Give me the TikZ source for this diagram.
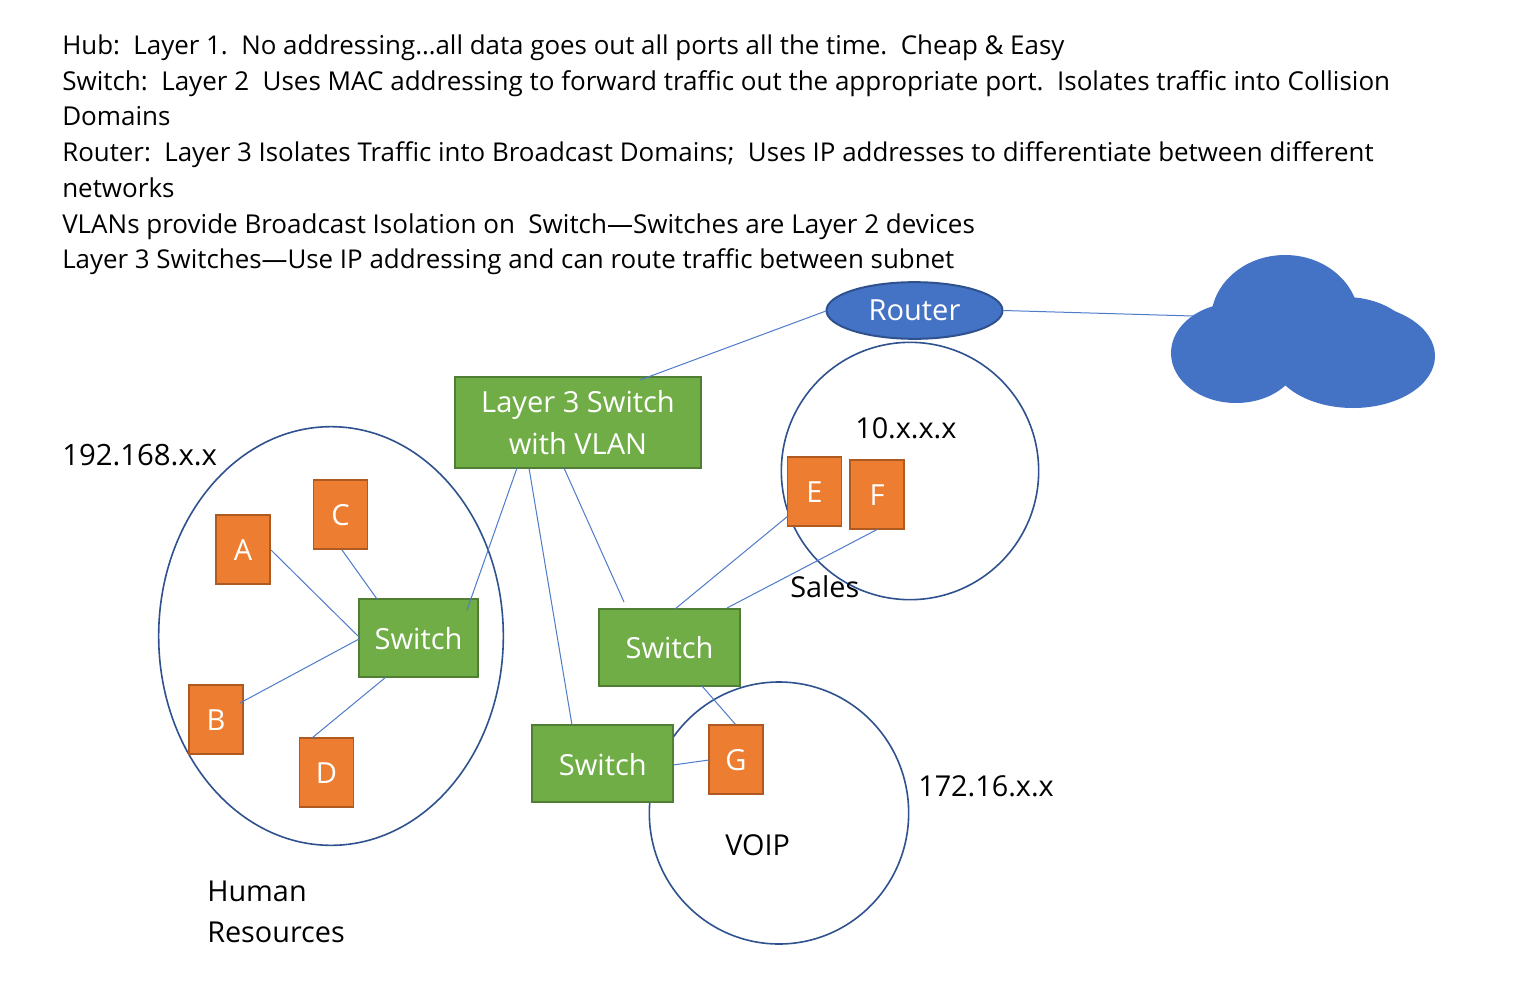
\documentclass[tikz,border=0pt]{standalone}
\usepackage{fontspec}
\setmainfont{Open Sans}
\usetikzlibrary{shapes.geometric}
\definecolor{blueF}{HTML}{4472C4}
\definecolor{blueL}{HTML}{2F528F}
\definecolor{greenF}{HTML}{70AD47}
\definecolor{greenL}{HTML}{507E32}
\definecolor{orF}{HTML}{ED7D31}
\definecolor{orL}{HTML}{AE5A21}
\definecolor{wireC}{HTML}{4F7BCB}
\tikzset{
 x=0.75pt,y=-0.75pt,
 lbl/.style={inner sep=0pt,anchor=base west,font=\fontsize{21.6}{26}\selectfont,text=black},
 hdr/.style={inner sep=0pt,anchor=base west,font=\fontsize{19.5}{24}\selectfont,text=black},
 hdrn/.style={inner sep=0pt,anchor=base west,font=\fontsize{19.42}{24}\selectfont,text=black},
 dev/.style={draw=orL,fill=orF,line width=1.3pt,inner sep=0pt,minimum width=40.5pt,minimum height=51.5pt,text=white,text height=17pt,font=\fontsize{21.8}{26}\selectfont},
 sw/.style={draw=greenL,fill=greenF,line width=1.5pt,inner sep=0pt,text=white,font=\fontsize{21.8}{26}\selectfont,align=center},
 zone/.style={draw=blueL,line width=1.2pt,ellipse,inner sep=0pt},
 wire/.style={draw=wireC,line width=0.75pt}
}
\begin{document}
\begin{tikzpicture}
\useasboundingbox (0,0) rectangle (1528,993);
\fill[white] (0,0) rectangle (1528,993);
% zones
\node[zone,minimum width=258.5pt,minimum height=314pt] (hr) at (331,636) {};
\node[zone,minimum width=193pt,minimum height=193pt] (sales) at (910,471) {};
\node[zone,minimum width=194.5pt,minimum height=196.5pt] (voip) at (779,813) {};
% cloud
\fill[blueF] (1236,353) ellipse[x radius=65,y radius=50];
\fill[blueF] (1285,320) ellipse[x radius=74,y radius=65];
\fill[blueF] (1345,348) ellipse[x radius=72,y radius=51];
\fill[blueF] (1353,356) ellipse[x radius=82,y radius=52];
\coordinate (cloudL) at (1193,316);
% router and switches
\node[ellipse,draw=blueL,fill=blueF,line width=1.5pt,inner sep=0pt,minimum width=132pt,minimum height=42.5pt,text=white,font=\fontsize{21.8}{26}\selectfont] (router) at (914.5,310.5) {Router};
\node[sw,minimum width=184pt,minimum height=68pt] (l3) at (578,422.5) {Layer 3 Switch\\[5.2pt]with VLAN};
\node[sw,minimum width=89.5pt,minimum height=58pt,text height=17.6pt] (s1) at (418.5,638) {Switch};
\node[sw,minimum width=105.75pt,minimum height=57.75pt] (s2) at (669.5,647.5) {Switch};
\node[sw,minimum width=105.75pt,minimum height=57.75pt,text height=17.6pt] (s3) at (602.75,763.8) {Switch};
% devices
\node[dev] (A) at (243,549.5) {A};
\node[dev] (B) at (216,719.5) {B};
\node[dev] (C) at (340.5,514.5) {C};
\node[dev] (D) at (326.5,772.5) {D};
\node[dev] (E) at (814.5,491.5) {E};
\node[dev] (F) at (877,494.5) {F};
\node[dev] (G) at (736,759.5) {G};
% wires
\coordinate (a1) at (271,550); \coordinate (a2) at (359,637);
\coordinate (b1) at (240,703); \coordinate (b2) at (359,639);
\coordinate (c1) at (342,550); \coordinate (c2) at (377,599);
\coordinate (d1) at (312,738); \coordinate (d2) at (386,677);
\draw[wire] (a1) -- (a2);
\draw[wire] (b1) -- (b2);
\draw[wire] (c1) -- (c2);
\draw[wire] (d1) -- (d2);
\coordinate (r1) at (826,311); \coordinate (l1) at (640,380);
\draw[wire] (r1) -- (l1);
\draw[wire] (router.east) -- (cloudL);
\coordinate (l2) at (517,468); \coordinate (s1t) at (467,610);
\draw[wire] (l2) -- (s1t);
\coordinate (l3a) at (529,468); \coordinate (s3t) at (572,725);
\draw[wire] (l3a) -- (s3t);
\coordinate (l3b) at (564,468); \coordinate (s2t) at (624,602);
\draw[wire] (l3b) -- (s2t);
\coordinate (e1) at (788,516); \coordinate (s2e) at (675,609);
\draw[wire] (e1) -- (s2e);
\coordinate (f1) at (878,529); \coordinate (s2f) at (727,608);
\draw[wire] (f1) -- (s2f);
\coordinate (s2g) at (702,686); \coordinate (g1) at (736,725);
\draw[wire] (s2g) -- (g1);
\coordinate (s3g) at (673,765); \coordinate (g2) at (709,760);
\draw[wire] (s3g) -- (g2);
% header text
\node[hdrn] (t1) at (62,54) {Hub:\ \ Layer 1.\ \ No addressing…all data goes out all ports all the time.\ \ Cheap \& Easy};
\node[hdr] (t2) at (62,90) {Switch:\ \ Layer 2\ \ Uses MAC addressing to forward traffic out the appropriate port.\ \ Isolates traffic into Collision};
\node[hdr] (t3) at (62,125) {Domains};
\node[hdrn] (t4) at (62,161) {Router:\ \ Layer 3 Isolates Traffic into Broadcast Domains;\ \ Uses IP addresses to differentiate between different};
\node[hdr] (t5) at (62,197) {networks};
\node[hdr] (t6) at (62,233) {VLANs provide Broadcast Isolation on\ \ Switch—Switches are Layer 2 devices};
\node[hdrn] (t7) at (62,268) {Layer 3 Switches—Use IP addressing and can route traffic between subnet};
% labels
\node[lbl,font=\fontsize{22}{26}\selectfont] (n192) at (62,465) {192.168.x.x};
\node[lbl] (n10) at (855,438) {10.x.x.x};
\node[lbl] (n172) at (918,796) {172.16.x.x};
\node[lbl] (nSales) at (790,597) {Sales};
\node[lbl] (nVoip) at (725,855) {VOIP};
\node[lbl] (nH) at (207,901) {Human};
\node[lbl] (nR) at (207,942) {Resources};
\end{tikzpicture}
\end{document}
